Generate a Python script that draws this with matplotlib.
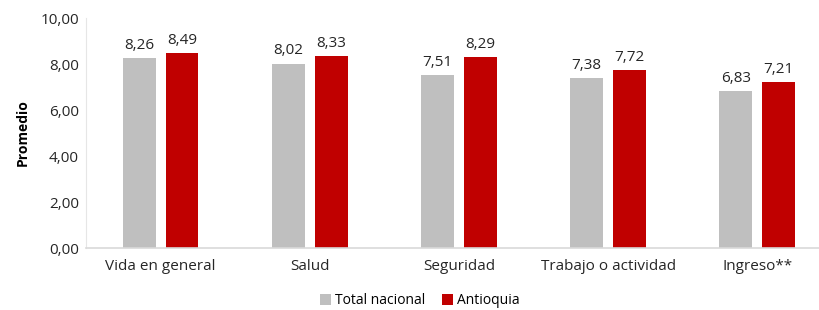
import numpy as np
import matplotlib.pyplot as plt

plt.rcParams['font.family'] = ['Open Sans', 'DejaVu Sans']

categorias = ['Vida en general', 'Salud', 'Seguridad', 'Trabajo o actividad', 'Ingreso**']
total_nacional = [8.26, 8.02, 7.51, 7.38, 6.83]
antioquia = [8.49, 8.33, 8.29, 7.72, 7.21]

gris = '#BFBFBF'
rojo = '#C00000'


def fmt(v):
    return f'{v:.2f}'.replace('.', ',')


fig = plt.figure(figsize=(8.2, 3.1), dpi=100)
ax = fig.add_axes([86 / 820, 1 - 248 / 310, 1 - 86 / 820, 230 / 310])

x = np.arange(len(categorias))
w = 0.22
off = 0.144
b1 = ax.bar(x - off, total_nacional, w, color=gris, label='Total nacional')
b2 = ax.bar(x + off, antioquia, w, color=rojo, label='Antioquia')

for bars in (b1, b2):
    for r in bars:
        ax.text(r.get_x() + r.get_width() / 2, r.get_height() + 0.22, fmt(r.get_height()),
                ha='center', va='bottom', fontsize=11, color='#262626')

ax.set_ylim(0, 10)
ax.set_xlim(-0.5, 4.42)
ax.set_yticks(np.arange(0, 11, 2))
ax.set_yticklabels([fmt(v) for v in np.arange(0, 11, 2)])
ax.set_xticks(x)
ax.set_xticklabels(categorias)
ax.tick_params(axis='both', length=0, labelsize=11, colors='#262626')
ax.tick_params(axis='x', pad=8)
ax.tick_params(axis='y', pad=5)

for s in ('top', 'right'):
    ax.spines[s].set_visible(False)
ax.spines['left'].set_color('#E6E6E6')
ax.spines['bottom'].set_color('#D9D9D9')
ax.spines['bottom'].set_linewidth(1.2)

ax.set_ylabel('Promedio', fontsize=10, fontweight='bold', labelpad=8)

fig.legend(loc='center', bbox_to_anchor=(420 / 820, 1 - 301 / 310), ncol=2, frameon=False,
           fontsize=10, handlelength=0.8, handleheight=0.8, handletextpad=0.3, columnspacing=1.2)

fig.savefig('out.png', dpi=100)
